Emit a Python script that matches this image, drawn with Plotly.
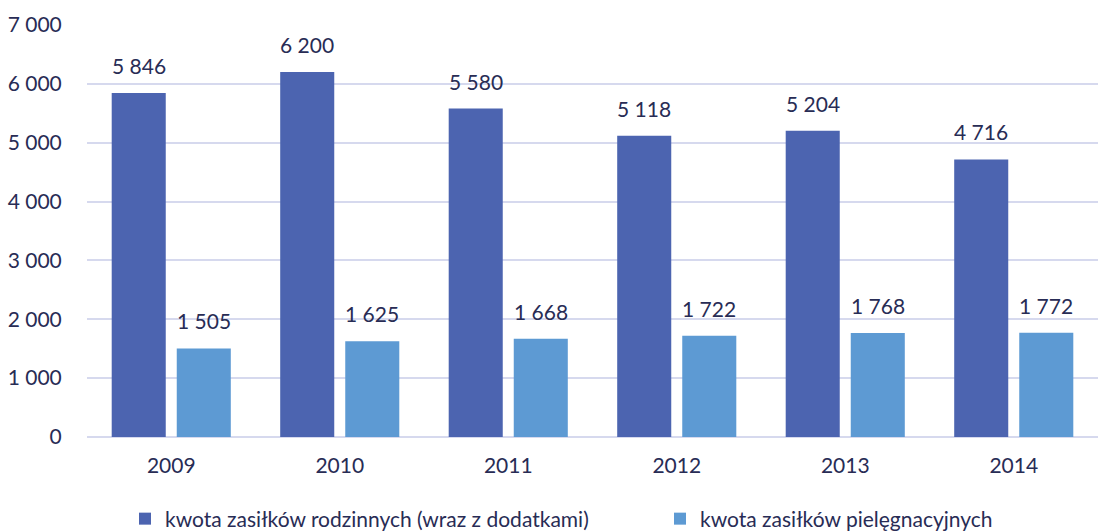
import plotly.graph_objects as go

years = ["2009", "2010", "2011", "2012", "2013", "2014"]
rodzinne = [5846, 6200, 5580, 5118, 5204, 4716]
pielegnacyjne = [1505, 1625, 1668, 1722, 1768, 1772]
series_names = ["kwota zasiłków rodzinnych (wraz z dodatkami)", "kwota zasiłków pielęgnacyjnych"]
y_ticks = [0, 1000, 2000, 3000, 4000, 5000, 6000, 7000]

def fmt(v):
    return f"{v:,}".replace(",", " ")

TXT = "#282c55"
FONT = "Lato"
FS = 21

fig = go.Figure()
fig.add_trace(go.Bar(
    x=years, y=rodzinne, name=series_names[0], legend="legend",
    marker=dict(color="#4c64b0", line=dict(width=0)),
))
fig.add_trace(go.Bar(
    x=years, y=pielegnacyjne, name=series_names[1], legend="legend2",
    marker=dict(color="#5d9ad3", line=dict(width=0)),
))

# data labels above each bar (category index on the category axis, bar offset within group)
for vals, dx in ((rodzinne, -32.5), (pielegnacyjne, 32.5)):
    for i, v in enumerate(vals):
        fig.add_annotation(
            x=i, y=v, text=fmt(v), showarrow=False,
            xshift=dx, yshift=13, yanchor="bottom", xanchor="center",
            font=dict(family=FONT, size=FS, color=TXT),
        )

leg_common = dict(
    orientation="h", xref="container", yref="container",
    xanchor="left", y=1 - 519 / 532, yanchor="middle",
    font=dict(family=FONT, size=FS, color=TXT),
    bgcolor="rgba(0,0,0,0)",
)

fig.update_layout(
    width=1103, height=532,
    margin=dict(l=87, r=5, t=25, b=95),
    paper_bgcolor="white", plot_bgcolor="white",
    barmode="group", bargap=0.228, bargroupgap=0.169,
    font=dict(family=FONT, size=FS, color=TXT),
    showlegend=True,
    legend=dict(x=125 / 1103, **leg_common),
    legend2=dict(x=660 / 1103, **leg_common),
    xaxis=dict(
        type="category", automargin=False,
        showgrid=False, showline=False, zeroline=False,
        ticks="outside", ticklen=10, tickcolor="rgba(0,0,0,0)",
        tickfont=dict(family=FONT, size=FS, color=TXT),
    ),
    yaxis=dict(
        automargin=False,
        range=[0, 7000], tickvals=y_ticks, ticktext=[fmt(v) for v in y_ticks],
        showgrid=True, gridcolor="#d6d9ee", gridwidth=1.5,
        zeroline=True, zerolinecolor="#d6d9ee", zerolinewidth=1.5,
        showline=False, ticks="outside", ticklen=20, tickcolor="rgba(0,0,0,0)",
        tickfont=dict(family=FONT, size=FS, color=TXT),
    ),
)

fig.write_html(
    "out.html",
    config={"displayModeBar": False},
    post_script="document.body.style.margin='0px';document.body.style.overflow='hidden';",
)
